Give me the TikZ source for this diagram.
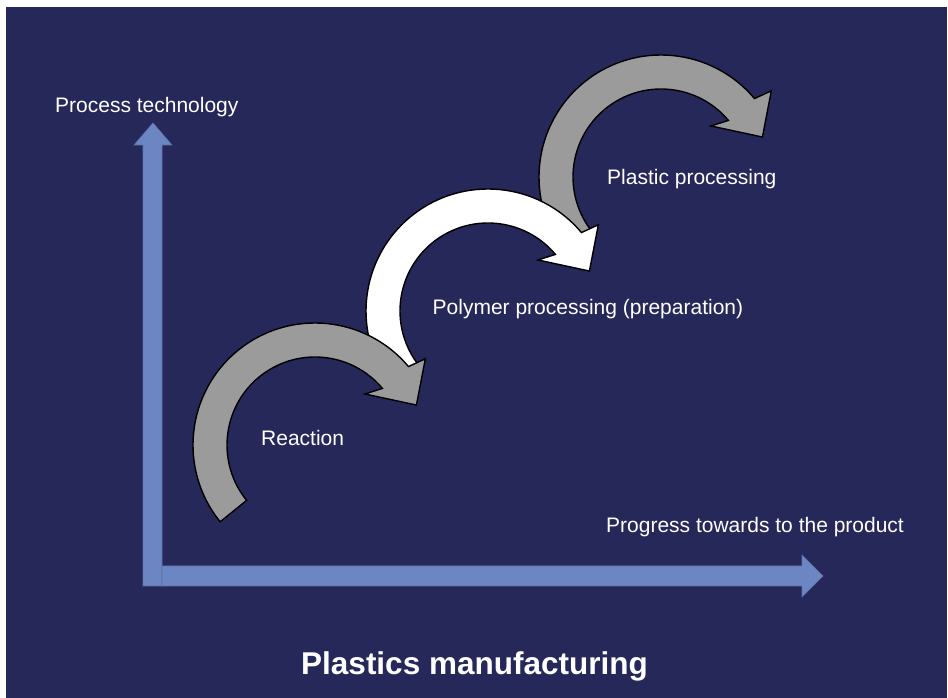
\documentclass[tikz,border=0pt]{standalone}
\usepackage{fontspec}
\setmainfont{Liberation Sans}
\definecolor{navy}{HTML}{26285A}
\definecolor{axisblue}{HTML}{6C86C4}
\definecolor{arrowgray}{HTML}{9B9B9B}
\tikzset{
  curvedarr/.pic={
    \path[pic actions] (219:122) arc[start angle=219,end angle=40,radius=122]
      -- (38:140) -- (21.5:109) -- (45.6:71.4) -- (40:88)
      arc[start angle=40,end angle=219,radius=88] -- cycle;
  }
}
\begin{document}
\begin{tikzpicture}[x=1pt,y=1pt,
  lbl/.style={text=white,inner sep=0pt,font=\fontsize{21}{25}\selectfont,anchor=base west},
  title/.style={text=white,inner sep=0pt,font=\fontsize{31.5}{36}\selectfont\bfseries,anchor=base},
  curvearrow/.style={draw=black,line width=1.4pt,line join=miter},
  axisarrow/.style={fill=axisblue,draw=axisblue!85!black,line width=0.6pt}]
\useasboundingbox (0,0) rectangle (948,698);
\fill[white] (0,0) rectangle (948,698);
\fill[navy] (6,0) rectangle (947,691);

% axes
\coordinate (vbl) at (143,112);
\coordinate (hbl) at (162,112);
\path[axisarrow] (vbl) -- (162,112) -- (162,553) -- (172,553) -- (153,575) -- (134,553) -- (143,553) -- cycle;
\path[axisarrow] (hbl) -- (802,112) -- (802,101) -- (823,122) -- (802,143) -- (802,132) -- (162,132) -- cycle;

% curved arrows (drawn back to front)
\pic[curvearrow,fill=arrowgray] (plastic) at (661,521) {curvedarr};
\pic[curvearrow,fill=white] (polymer) at (488,387) {curvedarr};
\pic[curvearrow,fill=arrowgray] (reaction) at (315,253) {curvedarr};

% labels
\node[lbl] (ptech) at (55,585) {Process technology};
\node[lbl] (lplastic) at (607,513) {Plastic processing};
\node[lbl] (lpolymer) at (432.5,383) {Polymer processing (preparation)};
\node[lbl] (lreaction) at (261,252) {Reaction};
\node[lbl] (lprogress) at (606,165) {Progress towards to the product};
\node[title] (ltitle) at (474.5,23) {Plastics manufacturing};
\end{tikzpicture}
\end{document}
